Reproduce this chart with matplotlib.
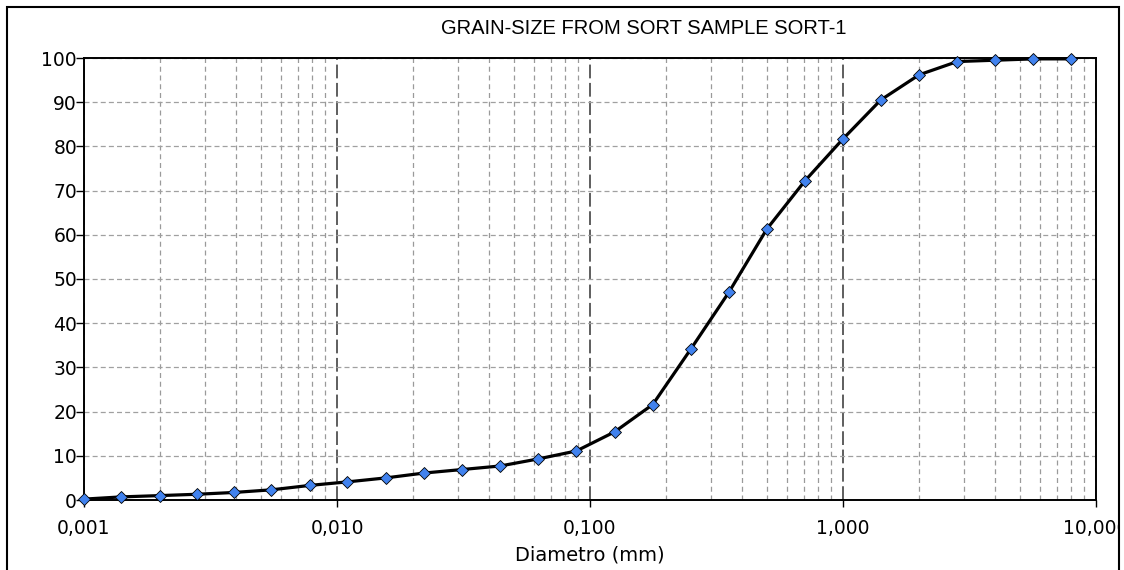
import matplotlib
matplotlib.use("Agg")
import matplotlib.pyplot as plt
from matplotlib.patches import Rectangle
from matplotlib.ticker import FixedLocator, LogLocator, NullFormatter

# Grain-size curve (diameter in mm, cumulative % passing)
diameters = [0.001, 0.0014, 0.002, 0.0028, 0.0039, 0.0055, 0.0078, 0.011,
             0.0156, 0.0221, 0.0313, 0.0442, 0.0625, 0.0884, 0.125, 0.177,
             0.25, 0.354, 0.5, 0.707, 1.0, 1.41, 2.0, 2.83, 4.0, 5.66, 8.0]
percent = [0.2, 0.7, 1.0, 1.3, 1.7, 2.3, 3.3, 4.1, 5.0, 6.1, 6.9, 7.7, 9.3,
           11.1, 15.4, 21.6, 34.1, 47.0, 61.3, 72.2, 81.7, 90.5, 96.2, 99.2,
           99.5, 99.8, 99.8]

x_ticks = [0.001, 0.01, 0.1, 1, 10]
x_labels = ["0,001", "0,010", "0,100", "1,000", "10,000"]
y_ticks = list(range(0, 101, 10))

W, H = 1124, 570
fig = plt.figure(figsize=(W / 100, H / 100), dpi=100)
ax = fig.add_axes([84 / W, 1 - 500 / H, (1096 - 84) / W, (500 - 58) / H])

ax.set_xscale("log")
ax.set_xlim(0.001, 10)
ax.set_ylim(0, 100)

# grid
ax.xaxis.set_major_locator(FixedLocator(x_ticks))
ax.xaxis.set_minor_locator(LogLocator(base=10, subs=range(2, 10)))
ax.xaxis.set_minor_formatter(NullFormatter())
ax.set_yticks(y_ticks)
ax.grid(which="major", axis="x", color="#333333", linestyle=(0, (9, 3)), linewidth=1.1)
ax.grid(which="minor", axis="x", color="#9a9a9a", linestyle=(0, (4, 3)), linewidth=0.9)
ax.grid(which="major", axis="y", color="#a0a0a0", linestyle=(0, (4, 2.5)), linewidth=0.9)
ax.set_axisbelow(True)

ax.plot(diameters, percent, color="black", linewidth=2.3, marker="D",
        markersize=6.5, markerfacecolor="#4182ee", markeredgecolor="black",
        markeredgewidth=0.6, clip_on=False, zorder=5)

ax.set_xticklabels(x_labels, fontsize=13.5)
ax.set_yticklabels([str(v) for v in y_ticks], fontsize=13.5)
ax.tick_params(axis="x", which="major", direction="out", length=5, width=1, pad=9)
ax.tick_params(axis="x", which="minor", length=0)
ax.tick_params(axis="y", direction="out", length=6, width=1, pad=-1)
for s in ax.spines.values():
    s.set_linewidth(1.4)
    s.set_color("black")

ax.set_xlabel("Diametro (mm)", fontsize=14, labelpad=5)

fig.text(644 / W, 1 - 28 / H, "GRAIN-SIZE FROM SORT SAMPLE SORT-1",
         ha="center", va="center", fontsize=14.5,
         family=["Liberation Sans Narrow", "Liberation Sans", "DejaVu Sans"])

# outer frame, with the area right of it blanked (cuts the last tick label
# like in the original export)
fig.add_artist(Rectangle((1120 / W, 0), 4 / W, 1, transform=fig.transFigure,
                         facecolor="white", edgecolor="none", zorder=10))
fig.add_artist(Rectangle((7 / W, -0.05), (1119 - 7) / W, 1 - 7 / H + 0.05,
                         transform=fig.transFigure, fill=False,
                         edgecolor="black", linewidth=1.5, zorder=11))

plt.savefig("out.png", dpi=100)
